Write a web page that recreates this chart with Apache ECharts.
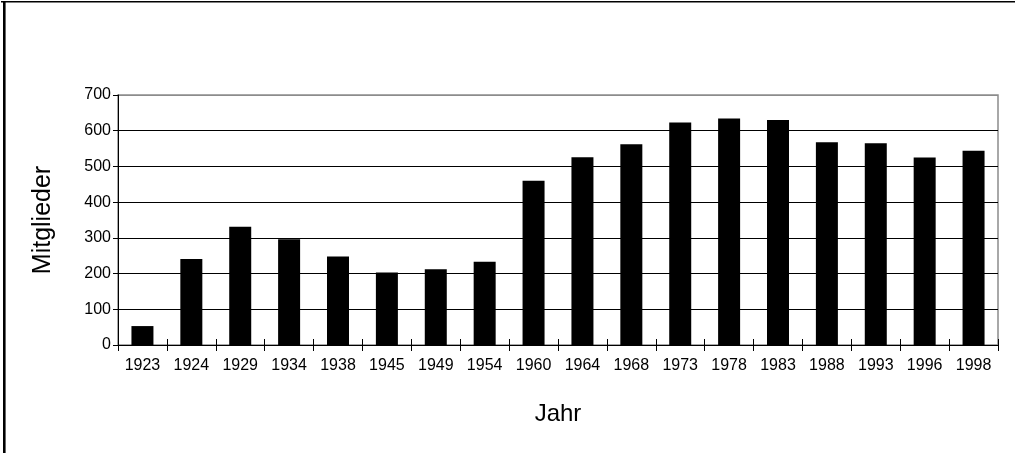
<!DOCTYPE html>
<html>
<head>
<meta charset="utf-8">
<script src="https://cdn.jsdelivr.net/npm/echarts@6/dist/echarts.min.js"></script>
<style>
  html, body { margin: 0; padding: 0; background: #fff; }
  #chartBar { width: 1015px; height: 453px; }
</style>
</head>
<body>
<div id="chartBar"></div>
<script>
// Jahre und Mitgliederzahlen
const years = ["1923", "1924", "1929", "1934", "1938", "1945", "1949", "1954", "1960",
  "1964", "1968", "1973", "1978", "1983", "1988", "1993", "1996", "1998"];
const members = [53, 241, 331, 296, 248, 203, 212, 233, 460,
  526, 562, 623, 634, 630, 568, 565, 525, 544];
const yTicks = [0, 100, 200, 300, 400, 500, 600, 700];

const font = "Arial, 'Liberation Sans', sans-serif";

// Gitterlinien schwarz, oberste Linie grau (Rahmen)
const gridColors = yTicks.map((v, i) => (i === yTicks.length - 1 ? "#8c8c8c" : "#000"));

const option = {
  animation: false,
  grid: { left: 118, right: 17, top: 95, bottom: 108 },
  graphic: [
    // Rahmen oben und links
    { type: "rect", shape: { x: 1, y: 1, width: 1020, height: 1.6 }, style: { fill: "#000" } },
    { type: "rect", shape: { x: 3, y: 1, width: 2.6, height: 460 }, style: { fill: "#000" } },
    // Rahmen der Zeichenfläche
    { type: "rect", shape: { x: 118, y: 95, width: 880, height: 250 },
      style: { fill: "none", stroke: "#8c8c8c", lineWidth: 1.5 }, z: 0 }
  ],
  xAxis: [
    {
      type: "category",
      data: years,
      name: "Jahr",
      nameLocation: "middle",
      nameGap: 57,
      nameTextStyle: { color: "#000", fontSize: 24, fontFamily: font },
      axisLine: { lineStyle: { color: "#000", width: 1 } },
      axisTick: { show: true, interval: 0, length: 6, lineStyle: { color: "#000" } },
      axisLabel: { color: "#000", fontSize: 16, fontFamily: font, margin: 13, interval: 0, hideOverlap: false }
    },
    {
      // Teilstriche nach innen (kreuzen die Achse)
      type: "category",
      data: years,
      position: "bottom",
      axisLine: { show: false },
      axisTick: { show: true, interval: 0, inside: true, length: 6, lineStyle: { color: "#000" } },
      axisLabel: { show: false }
    }
  ],
  yAxis: {
    type: "value",
    min: yTicks[0],
    max: yTicks[yTicks.length - 1],
    interval: 100,
    name: "Mitglieder",
    nameLocation: "middle",
    nameGap: 62,
    nameRotate: 90,
    nameTextStyle: { color: "#000", fontSize: 25, fontFamily: font },
    axisLine: { show: true, lineStyle: { color: "#000", width: 1 } },
    axisTick: { show: true, length: 5, lineStyle: { color: "#000" } },
    axisLabel: { color: "#000", fontSize: 16, fontFamily: font, margin: 7 },
    splitLine: { show: true, lineStyle: { color: gridColors, width: 1 } }
  },
  series: [
    {
      type: "bar",
      data: members,
      barWidth: 22,
      itemStyle: { color: "#000" }
    }
  ]
};

var myChart = echarts.init(document.getElementById("chartBar"));
myChart.setOption(option);
</script>
</body>
</html>
